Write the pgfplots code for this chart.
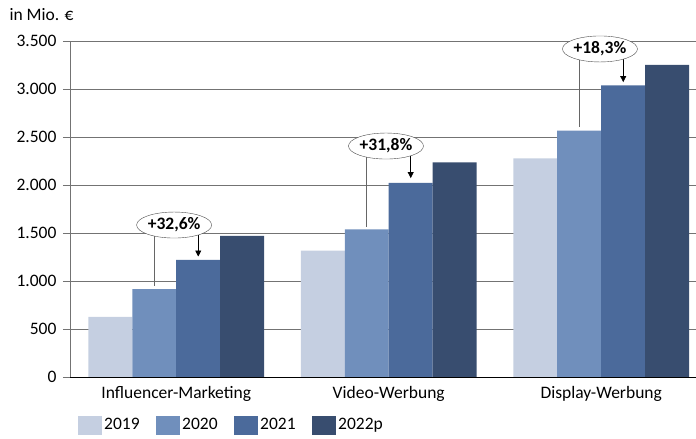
\documentclass[border=0pt]{standalone}
\usepackage{pgfplots}
\pgfplotsset{compat=1.18}
\usepackage{fontspec}
\setmainfont{Carlito}
\usetikzlibrary{shapes.geometric,arrows.meta}
\definecolor{c19}{RGB}{197,207,225}
\definecolor{c20}{RGB}{112,143,188}
\definecolor{c21}{RGB}{75,106,155}
\definecolor{c22}{RGB}{56,77,111}
\newcommand{\ff}{\fontsize{17.5pt}{21pt}\selectfont}
\begin{document}
\begin{tikzpicture}[font=\ff]
\useasboundingbox (0,0) rectangle (696pt,439pt);
\node[anchor=west] at (6pt,424pt) {in Mio. €};
\begin{axis}[
  at={(70pt,62pt)}, anchor=south west,
  scale only axis, width=626pt, height=336pt,
  xmin=-0.5, xmax=2.446, ymin=0, ymax=3500,
  ybar=0pt, bar width=0.207,
  axis x line*=bottom, axis y line*=left,
  x axis line style={black, line width=0.8pt},
  y axis line style={black!55, line width=0.8pt},
  xtick={0,1,2},
  xticklabels={Influencer-Marketing,Video-Werbung,Display-Werbung},
  xtick style={draw=none},
  xticklabel style={yshift=1pt},
  ytick={0,500,...,3500},
  ytick style={black!55, line width=0.6pt},
  yticklabel style={xshift=-3pt},
  tick align=outside, major tick length=7pt,
  ymajorgrids, grid style={black!55, line width=0.6pt},
  scaled y ticks=false,
  /pgf/number format/1000 sep={.},
  /pgf/number format/assume math mode=true,
  tick label style={font=\ff},
  clip=false,
  legend columns=4,
  legend style={draw=none, fill=none, at={(0.008,-0.143)}, anchor=west,
    font=\ff,
    /tikz/every even column/.append style={column sep=14.5pt}},
  legend image code/.code={\path[#1] (0pt,-9.5pt) rectangle (24pt,9.5pt);},
]
\addplot[fill=c19, draw=none] coordinates {(0,625) (1,1316) (2,2278)};
\addplot[fill=c20, draw=none] coordinates {(0,915) (1,1538) (2,2566)};
\addplot[fill=c21, draw=none] coordinates {(0,1219) (1,2021) (2,3038)};
\addplot[fill=c22, draw=none] coordinates {(0,1469) (1,2236) (2,3250)};
\legend{2019,2020,2021,2022p}
% annotations
\draw[black!60, line width=0.7pt] (axis cs:-0.1035,1583) -- (axis cs:-0.1035,948);
\draw[black, line width=0.7pt, -{Triangle[length=6pt,width=6pt]}] (axis cs:0.1035,1583) -- (axis cs:0.1035,1255);
\node[draw=black!70, fill=white, ellipse, minimum width=75pt, minimum height=26pt, inner sep=0pt, font=\ff\bfseries] at (axis cs:-0.01,1583) {+32,6\%};
\draw[black!60, line width=0.7pt] (axis cs:0.8965,2406) -- (axis cs:0.8965,1566);
\draw[black, line width=0.7pt, -{Triangle[length=6pt,width=6pt]}] (axis cs:1.1035,2406) -- (axis cs:1.1035,2072);
\node[draw=black!70, fill=white, ellipse, minimum width=75pt, minimum height=26pt, inner sep=0pt, font=\ff\bfseries] at (axis cs:0.987,2406) {+31,8\%};
\draw[black!60, line width=0.7pt] (axis cs:1.8965,3417) -- (axis cs:1.8965,2604);
\draw[black, line width=0.7pt, -{Triangle[length=6pt,width=6pt]}] (axis cs:2.1035,3417) -- (axis cs:2.1035,3072);
\node[draw=black!70, fill=white, ellipse, minimum width=75pt, minimum height=26pt, inner sep=0pt, font=\ff\bfseries] at (axis cs:1.994,3417) {+18,3\%};
\end{axis}
\end{tikzpicture}
\end{document}
